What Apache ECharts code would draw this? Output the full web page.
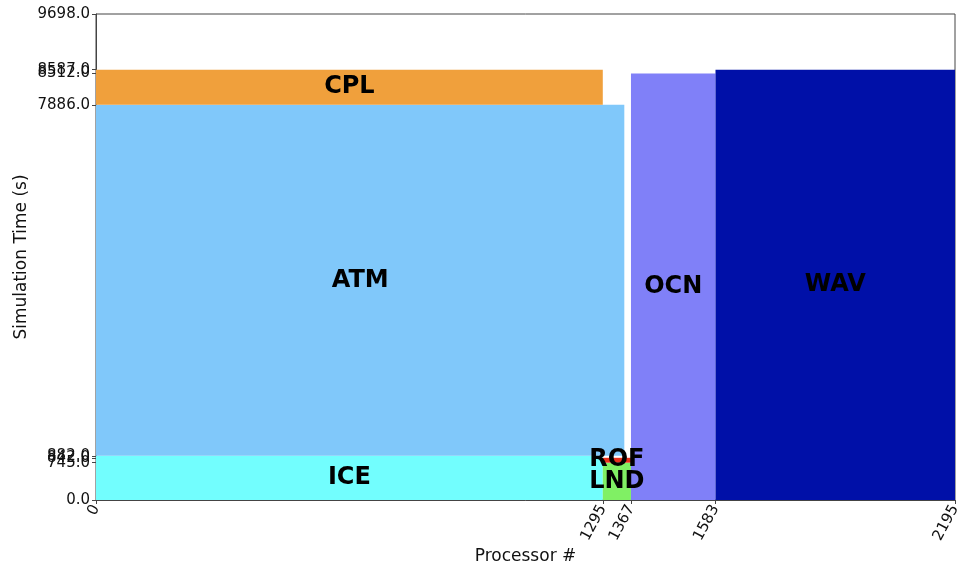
<!DOCTYPE html>
<html>
<head>
<meta charset="utf-8">
<script src="https://cdn.jsdelivr.net/npm/echarts@6/dist/echarts.min.js"></script>
<style>
  html, body { margin: 0; padding: 0; background: #fff; }
  #chart { width: 974px; height: 566px; }
</style>
</head>
<body>
<div id="chart"></div>
<script>
// Component layout: processor range [start, end) and time span [from, to]
const components = ['ICE', 'LND', 'ROF', 'ATM', 'CPL', 'OCN', 'WAV'];
const procStart  = [0,    1295, 1295, 0,    0,    1367, 1583];
const procEnd    = [1295, 1367, 1367, 1350, 1295, 1583, 2195];
const timeFrom   = [0,    0,    745,  882,  7886, 0,    0];
const timeTo     = [882,  745,  842,  7886, 8587, 8512, 8587];
const colors     = ['#72fefe', '#80f064', '#e8301c', '#80c8fa', '#f0a03c', '#8080f8', '#0010a8'];

const xTicks = [0, 1295, 1367, 1583, 2195];
const yTicks = [0, 745, 842, 882, 7886, 8512, 8587, 9698];
const xMax = 2195;
const yMax = 9698;

const data = components.map((name, i) => ({
  value: [procStart[i], procEnd[i], timeFrom[i], timeTo[i], name],
  itemStyle: { color: colors[i] }
}));

const chart = echarts.init(document.getElementById('chart'), null, { renderer: 'canvas' });

const tickStyle = { color: '#444' };

chart.setOption({
  animation: false,
  grid: {
    left: 96, right: 19, top: 14, bottom: 66,
    containLabel: false, outerBoundsMode: 'none',
    show: true, borderColor: '#444', borderWidth: 1, backgroundColor: 'transparent'
  },
  xAxis: {
    type: 'value', min: 0, max: xMax,
    name: 'Processor #', nameLocation: 'middle', nameGap: 48, nameMoveOverlap: false,
    nameTextStyle: { fontFamily: 'DejaVu Sans', fontSize: 17, color: '#111' },
    axisLine: { show: true, lineStyle: tickStyle },
    splitLine: { show: false },
    axisTick: { show: true, length: 4, lineStyle: tickStyle, customValues: xTicks },
    axisLabel: {
      customValues: xTicks, rotate: 62, margin: 6,
      fontFamily: 'DejaVu Sans', fontSize: 15, color: '#111',
      formatter: v => String(v)
    }
  },
  yAxis: {
    type: 'value', min: 0, max: yMax,
    name: 'Simulation Time (s)', nameLocation: 'middle', nameGap: 66, nameMoveOverlap: false,
    nameTextStyle: { fontFamily: 'DejaVu Sans', fontSize: 17, color: '#111' },
    axisLine: { show: true, lineStyle: tickStyle },
    splitLine: { show: false },
    axisTick: { show: true, length: 4, lineStyle: tickStyle, customValues: yTicks },
    axisLabel: {
      customValues: yTicks, margin: 6, hideOverlap: false,
      fontFamily: 'DejaVu Sans', fontSize: 15, color: '#111',
      formatter: v => Number(v).toFixed(1)
    }
  },
  series: [{
    type: 'custom',
    data: data,
    encode: { x: [0, 1], y: [2, 3] },
    clip: true,
    renderItem: function (params, api) {
      const p0 = api.coord([api.value(0), api.value(2)]);
      const p1 = api.coord([api.value(1), api.value(3)]);
      const x = Math.min(p0[0], p1[0]);
      const y = Math.min(p0[1], p1[1]);
      const w = Math.abs(p1[0] - p0[0]);
      const h = Math.abs(p1[1] - p0[1]);
      return {
        type: 'group',
        children: [
          {
            type: 'rect',
            shape: { x: x, y: y, width: w, height: h },
            style: { fill: api.visual('color') },
            z2: 1
          },
          {
            type: 'text',
            x: x + w / 2,
            y: y + h / 2,
            style: {
              text: api.value(4),
              fill: '#000',
              font: 'bold 24px "DejaVu Sans"',
              align: 'center',
              verticalAlign: 'middle'
            },
            z2: 10
          }
        ]
      };
    }
  }]
});
</script>
</body>
</html>
